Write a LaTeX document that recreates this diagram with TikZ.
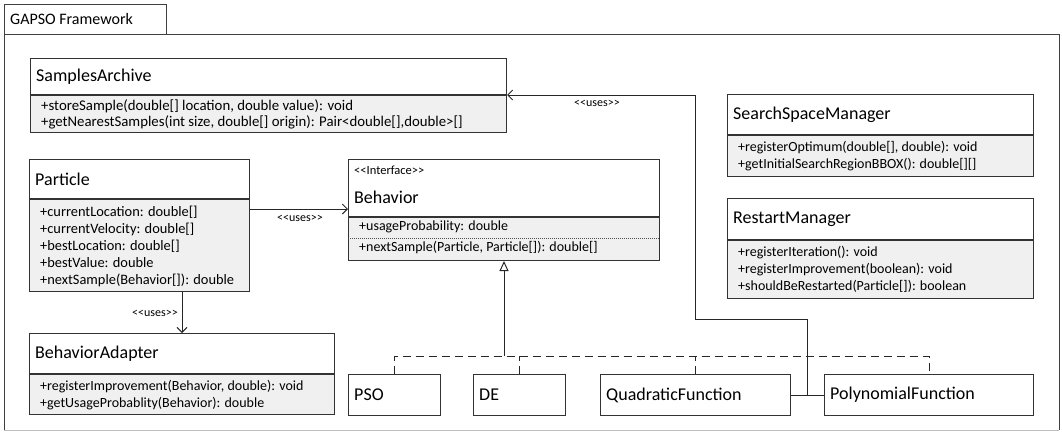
\documentclass[tikz,border=0pt]{standalone}
\usepackage{fontspec}
\setmainfont{Carlito}
\usetikzlibrary{arrows.meta,calc}
\newcommand{\uselbl}{<\kern0pt<uses>\kern0pt>}
\begin{document}
\begin{tikzpicture}[x=1pt,y=-1pt,
  frm/.style={draw=black!75, line width=0.9pt},
  hdr/.style={draw=black!80, line width=1pt, fill=white, anchor=north west, inner sep=0pt},
  comp/.style={draw=black!80, line width=1pt, fill=black!6, anchor=north west, inner sep=0pt},
  ttl/.style={font=\fontsize{18}{20}\selectfont, anchor=west, inner sep=0pt},
  mem/.style={font=\fontsize{14}{17}\selectfont, anchor=north west, align=left, inner sep=0pt},
  lbl/.style={font=\fontsize{12}{13}\selectfont, inner sep=0pt},
  conn/.style={draw=black!85, line width=1pt},
  uses/.style={conn, -{Straight Barb[length=5pt,width=10pt]}},
  real/.style={draw=black!85, line width=1pt, dash pattern=on 8pt off 5pt},
  impl/.style={conn, -{Triangle[open,length=10pt,width=9pt]}},
]
\useasboundingbox (0,0) rectangle (1062,432);
% package frame
\draw[frm, draw=black!25] (4,430) -- (1059,430);
\draw[frm] (4,430) -- (4,4) -- (166,4) -- (166,34);
\draw[frm] (4,34) -- (1059,34) -- (1059,430);
\node[ttl, font=\fontsize{16}{18}\selectfont] (pkg) at (10,19) {GAPSO Framework};

% SamplesArchive
\node[hdr, minimum width=476pt, minimum height=36pt] (sa) at (30,58) {};
\node[comp, minimum width=476pt, minimum height=37pt] (sam) at (sa.south west) {};
\node[ttl] (saT) at ($(sa.west)+(6,0)$) {SamplesArchive};
\node[mem, font=\fontsize{14.8}{16}\selectfont] (saM) at ($(sam.north west)+(11,4)$) {\strut+storeSample(double[] location, double value): void\\\strut+getNearestSamples(int size, double[] origin): Pair<double[],double>[]};

% Particle
\node[hdr, minimum width=220pt, minimum height=39pt] (pa) at (29,159) {};
\node[comp, minimum width=220pt, minimum height=92pt] (pam) at (pa.south west) {};
\node[ttl] (paT) at ($(pa.west)+(6,0)$) {Particle};
\node[mem, font=\fontsize{14.4}{17}\selectfont] (paM) at ($(pam.north west)+(11,5)$) {\strut+currentLocation: double[]\\\strut+currentVelocity: double[]\\\strut+bestLocation: double[]\\\strut+bestValue: double\\\strut+nextSample(Behavior[]): double};

% Behavior
\node[hdr, minimum width=311pt, minimum height=57pt] (bh) at (348,159) {};
\node[comp, minimum width=311pt, minimum height=43pt] (bhm) at (bh.south west) {};
\node[lbl, font=\fontsize{12.5}{14}\selectfont, anchor=west] (bhS) at ($(bh.north west)+(6,11)$) {<\kern0pt<Interface>\kern0pt>};
\node[ttl] (bhT) at ($(bh.north west)+(6,38)$) {Behavior};
\draw[draw=black!70, line width=0.8pt, dash pattern=on 1pt off 1pt] ($(bhm.north west)+(0,21)$) -- ($(bhm.north east)+(0,21)$);
\node[mem] (bhM1) at ($(bhm.north west)+(11,1)$) {\strut+usageProbability: double};
\node[mem] (bhM2) at ($(bhm.north west)+(11,22)$) {\strut+nextSample(Particle, Particle[]): double[]};

% SearchSpaceManager
\node[hdr, minimum width=306pt, minimum height=40pt] (ssm) at (727,94) {};
\node[comp, minimum width=306pt, minimum height=41pt] (ssmm) at (ssm.south west) {};
\node[ttl] (ssmT) at ($(ssm.west)+(6,0)$) {SearchSpaceManager};
\node[mem] (ssmM) at ($(ssmm.north west)+(11,4)$) {\strut+registerOptimum(double[], double): void\\\strut+getInitialSearchRegionBBOX(): double[][]};

% RestartManager
\node[hdr, minimum width=306pt, minimum height=41pt] (rm) at (727,198) {};
\node[comp, minimum width=306pt, minimum height=58pt] (rmm) at (rm.south west) {};
\node[ttl] (rmT) at ($(rm.west)+(6,0)$) {RestartManager};
\node[mem] (rmM) at ($(rmm.north west)+(11,4)$) {\strut+registerIteration(): void\\\strut+registerImprovement(boolean): void\\\strut+shouldBeRestarted(Particle[]): boolean};

% BehaviorAdapter
\node[hdr, minimum width=305pt, minimum height=40pt] (ba) at (29,333) {};
\node[comp, minimum width=305pt, minimum height=40pt] (bam) at (ba.south west) {};
\node[ttl] (baT) at ($(ba.west)+(6,0)$) {BehaviorAdapter};
\node[mem] (baM) at ($(bam.north west)+(11,4)$) {\strut+registerImprovement(Behavior, double): void\\\strut+getUsageProbablity(Behavior): double};

% implementations
\node[hdr, minimum width=92pt, minimum height=41pt] (pso) at (348,374) {};
\node[ttl] (psoT) at ($(pso.west)+(6,0)$) {PSO};
\node[hdr, minimum width=92pt, minimum height=41pt] (de) at (473,374) {};
\node[ttl] (deT) at ($(de.west)+(6,0)$) {DE};
\node[hdr, minimum width=190pt, minimum height=41pt] (qf) at (600,374) {};
\node[ttl] (qfT) at ($(qf.west)+(6,0)$) {QuadraticFunction};
\node[hdr, minimum width=209pt, minimum height=41pt] (pf) at (824,374) {};
\node[ttl] (pfT) at ($(pf.west)+(6,0)$) {PolynomialFunction};

% realization
\coordinate (r) at ($(bhm.south)+(0,95)$);
\draw[real] (pso.north) -- (pso.north |- r) -- (pf.north |- r) -- (pf.north);
\draw[real] (de.north) -- (de.north |- r);
\draw[real] (qf.north) -- (qf.north |- r);
\draw[impl] (r) -- (bhm.south);

% uses
\draw[uses] ($(pam.north east)+(0,10)$) -- ($(bh.south west)+(0,-8)$);
\node[lbl] (l1) at (300,218) {\uselbl};
\draw[uses] ($(pam.south west)+(153,0)$) -- ($(ba.north west)+(153,0)$);
\node[lbl] (l2) at (155,313) {\uselbl};
\coordinate (j) at ($(qf.east)!0.5!(pf.west)$);
\coordinate (b1) at ($(qf.north)+(0,-55)$);
\draw[conn] (qf.east) -- (pf.west);
\draw[uses] (j) |- (b1) |- (sa.south east);
\node[lbl] (l3) at (597,103) {\uselbl};
\end{tikzpicture}
\end{document}
